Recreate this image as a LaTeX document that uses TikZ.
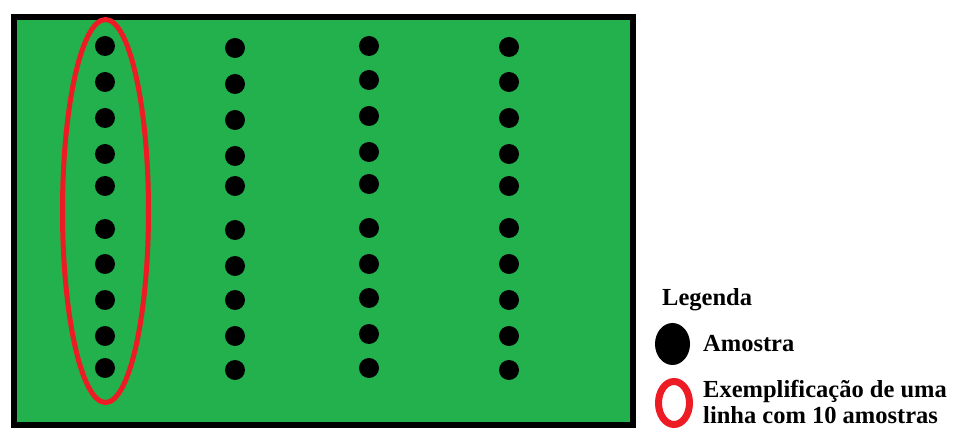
\documentclass[tikz,border=0pt]{standalone}
\usepackage{fontspec}
\setmainfont{Liberation Serif}
\usetikzlibrary{shapes.geometric}
\definecolor{fieldgreen}{RGB}{34,177,76}
\definecolor{markred}{RGB}{237,28,36}
\begin{document}
\begin{tikzpicture}[x=1pt,y=-1pt,
  sample/.style={circle,fill=black,inner sep=0pt,minimum size=20pt},
  legtext/.style={anchor=base west,inner sep=0pt,font=\bfseries\fontsize{24.5}{26}\selectfont}]
\useasboundingbox (0,0) rectangle (954,430);
\node[draw=black,line width=6pt,fill=fieldgreen,minimum width=619pt,minimum height=408pt,inner sep=0pt,anchor=north west] (field) at (11,14) {};
% column 1
\foreach \y [count=\i] in {46,82,118,154,186,229,264,300,336,368}
  \node[sample] (a\i) at (105,\y) {};
% column 2
\foreach \y [count=\i] in {48,84,120,156,186,230,266,300,336,370}
  \node[sample] (b\i) at (235,\y) {};
% column 3
\foreach \y [count=\i] in {46,80,116,152,184,228,264,298,334,368}
  \node[sample] (c\i) at (369,\y) {};
% column 4
\foreach \y [count=\i] in {47,82,118,154,186,228,264,300,336,370}
  \node[sample] (d\i) at (509,\y) {};
\node[ellipse,draw=markred,line width=5pt,minimum width=86pt,minimum height=383pt,inner sep=0pt] (row) at (105.5,211) {};
% legend
\node[legtext] (leg) at (662,306) {Legenda};
\node[ellipse,fill=black,minimum width=35pt,minimum height=42pt,inner sep=0pt] (legdot) at (672.5,344) {};
\node[legtext] (legdottext) at (703,352) {Amostra};
\node[ellipse,draw=markred,line width=7pt,minimum width=31pt,minimum height=43pt,inner sep=0pt] (legring) at (674,403) {};
\node[legtext] (legringtext1) at (703,398) {Exemplificação de uma};
\node[legtext] (legringtext2) at (703,424) {linha com 10 amostras};
\end{tikzpicture}
\end{document}
